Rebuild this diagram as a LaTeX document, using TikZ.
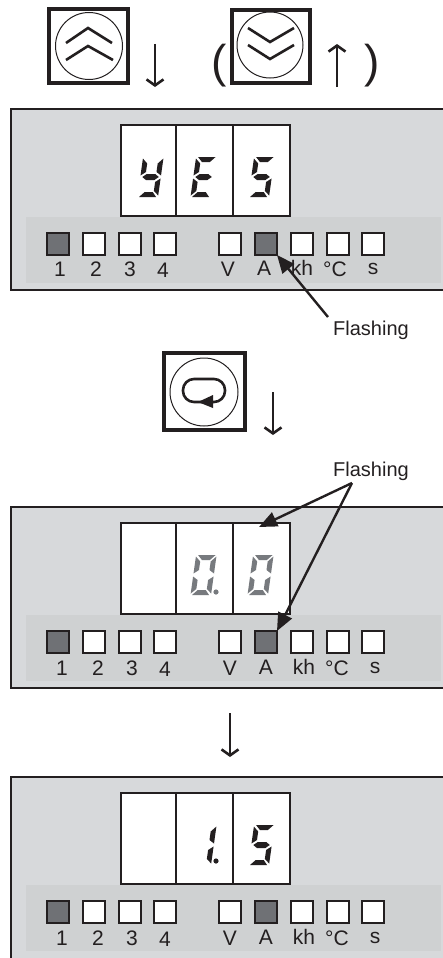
\documentclass[tikz,border=0pt]{standalone}
\usepackage{fontspec}
\setmainfont{Liberation Sans}
\usetikzlibrary{arrows.meta}
\definecolor{panelgray}{HTML}{D7D9DB}
\definecolor{bandgray}{HTML}{CFD1D2}
\definecolor{lamponcol}{HTML}{6F7175}
\definecolor{segoff}{HTML}{777A7E}
\definecolor{inkcol}{HTML}{231F20}
\tikzset{
  panelbox/.style={draw=inkcol, line width=1.7pt, fill=panelgray},
  cellbox/.style={draw=inkcol, line width=1.7pt, fill=white},
  lamp/.style={draw=inkcol, line width=1.7pt, fill=white, minimum size=22pt, inner sep=0pt, outer sep=0pt},
  lampon/.style={lamp, fill=lamponcol},
  lbl/.style={font=\fontsize{20}{20}\selectfont, text=inkcol, inner sep=0pt, anchor=base},
  lamplbl/.style={lbl, font=\fontsize{21}{21}\selectfont},
  keybox/.style={draw=inkcol, line width=3.2pt, fill=white},
  keyring/.style={draw=inkcol, line width=1pt},
  chev/.style={draw=inkcol, line width=2.6pt},
  steparrow/.style={draw=inkcol, line width=2.6pt, -{Straight Barb[length=6pt,width=17pt]}},
  flasharrow/.style={draw=inkcol, line width=2.4pt, -{Triangle[length=18pt,width=15pt]}}
}
% segments of one digit, origin at lower left
\newcommand\sega{\fill (2.5,-40) -- (20,-40) -- (15,-35) -- (7,-35) -- cycle;}
\newcommand\segf{\fill (0.5,-38.5) -- (5.5,-33.5) -- (5.5,-25) -- (0.5,-21.5) -- cycle;}
\newcommand\segb{\fill (21,-38.5) -- (21,-21.5) -- (16,-25) -- (16,-33.5) -- cycle;}
\newcommand\segg{\fill (2.5,-20) -- (6.5,-23) -- (15,-23) -- (19,-20) -- (15,-17) -- (6.5,-17) -- cycle;}
\newcommand\sege{\fill (0.5,-18.5) -- (5.5,-15) -- (5.5,-6) -- (0.5,-1.5) -- cycle;}
\newcommand\segc{\fill (21,-18.5) -- (21,-1.5) -- (16,-6) -- (16,-15) -- cycle;}
\newcommand\segd{\fill (2,0) -- (7,-5) -- (15,-5) -- (19,0) -- cycle;}
\newcommand\segdigit[4]{%
  \begin{scope}[shift={(#1,#2)}, xslant=0.14, fill=#4]
    \foreach \s in {#3} {\csname seg\s\endcsname}
  \end{scope}}
\begin{document}
\begin{tikzpicture}[x=1pt, y=-1pt]
  \useasboundingbox (0,0) rectangle (442,958);
  % panels
  \foreach \off/\low in {0/290, 398/290, 668/300} {
    \begin{scope}[yshift=-\off pt]
      \draw[panelbox] (11,109) rectangle (450,\low);
      \fill[bandgray] (26,217) rectangle (441,283);
      \draw[cellbox] (121,125) rectangle (290,216);
      \draw[inkcol, line width=1.9pt] (176,125) -- (176,216);
      \draw[inkcol, line width=1.9pt] (233,125) -- (233,216);
    \end{scope}
  }
  % lamps
  \foreach \off/\pre in {0/p, 398/q, 668/r} {
    \foreach \x/\nm/\st in {58/a/lampon, 94/b/lamp, 130/c/lamp, 165/d/lamp, 230/e/lamp, 266/f/lampon, 302/g/lamp, 338/h/lamp, 373/i/lamp} {
      \node[\st] (\pre\nm) at (\x,244+\off) {};
    }
  }
  % lamp labels
  \foreach \off/\dx/\dy in {0/0/0, 398/2/1, 668/2/1} {
    \foreach \x/\y/\txt [count=\n] in {60/276/1, 96/276/2, 130/276/3, 163/277/4, 228/276/V, 264/275/A, 302/275/kh, 335/276/{°C}, 373/274/s} {
      \node[lamplbl] (lbl\off-\n) at (\x+\dx,\y+\off+\dy) {\txt};
    }
  }
  % digits
  \segdigit{137}{197}{b,f,g,c,d}{inkcol}
  \segdigit{190}{197}{a,f,g,e,d}{inkcol}
  \segdigit{248}{197}{a,f,g,c,d}{inkcol}
  \segdigit{190}{595}{a,b,f,e,c,d}{segoff}
  \segdigit{247}{595}{a,b,f,e,c,d}{segoff}
  \segdigit{190}{865}{b,c}{inkcol}
  \segdigit{248}{865}{a,f,g,c,d}{inkcol}
  \fill[segoff] (216,592) circle (2.6pt);
  \fill[inkcol] (216,861) circle (2.6pt);
  % keys
  \draw[keybox] (49,9) rectangle (128,83);
  \draw[keyring] (89,46) circle (33.5pt);
  \draw[chev] (66,43) -- (88,28) -- (112,43);
  \draw[chev] (66,60) -- (88,46) -- (113,60);
  \draw[keybox] (232,10) rectangle (310,83);
  \draw[keyring] (270,45) circle (33pt);
  \draw[chev] (248,28) -- (270,42) -- (294,28);
  \draw[chev] (248,45) -- (270,59) -- (294,45);
  \draw[keybox] (164,353) rectangle (245,430);
  \draw[keyring] (204,392) circle (34pt);
  \draw[inkcol, line width=2.6pt, rounded corners=11pt] (183,379) rectangle (225,402);
  \fill[inkcol] (198,402) -- (213,395) -- (213,408) -- cycle;
  % step arrows
  \coordinate (upa) at (155,44);
  \coordinate (upb) at (155,87);
  \coordinate (dna) at (337,87);
  \coordinate (dnb) at (337,44);
  \coordinate (ena) at (273,392);
  \coordinate (enb) at (273,435);
  \coordinate (ara) at (230,713);
  \coordinate (arb) at (230,757);
  \draw[steparrow] (upa) -- (upb);
  \draw[steparrow] (dna) -- (dnb);
  \draw[steparrow] (ena) -- (enb);
  \draw[steparrow] (ara) -- (arb);
  \node[font=\fontsize{46}{46}\selectfont, text=inkcol, inner sep=0pt] (parl) at (219,66) {(};
  \node[font=\fontsize{46}{46}\selectfont, text=inkcol, inner sep=0pt] (parr) at (372,66) {)};
  % flashing notes
  \node[lbl] (flasha) at (371,335) {Flashing};
  \node[lbl] (flashb) at (371,476) {Flashing};
  \coordinate (flashtail) at (328,317);
  \coordinate (flashfork) at (352,483);
  \coordinate (flashcell) at (259,527);
  \draw[flasharrow] (flashtail) -- (pf.south east);
  \draw[flasharrow] (flashfork) -- (flashcell);
  \draw[flasharrow] (flashfork) -- (qf.north east);
\end{tikzpicture}
\end{document}
